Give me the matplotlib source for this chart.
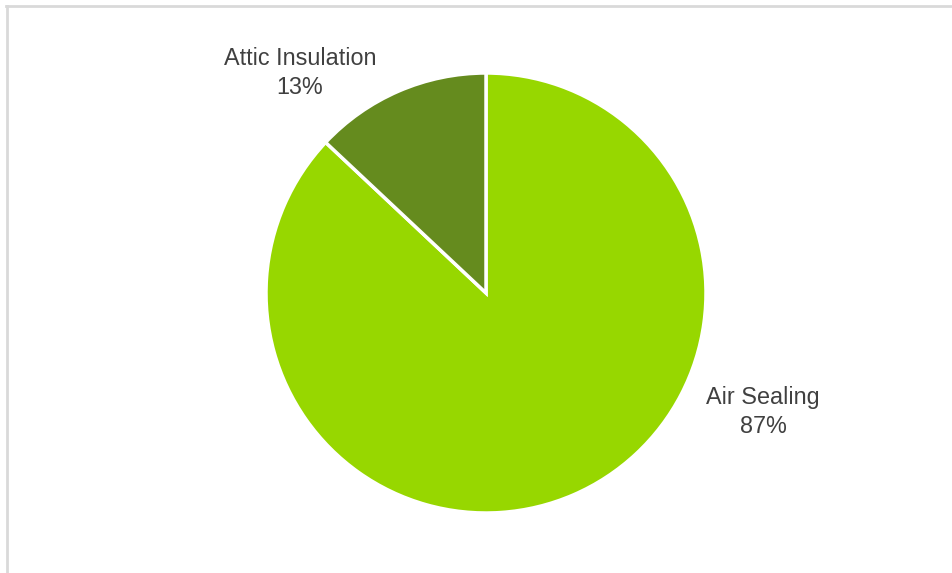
import matplotlib
matplotlib.use("Agg")
from matplotlib import pyplot as plt
from matplotlib.lines import Line2D

plt.rcParams['font.family'] = ['Liberation Sans', 'DejaVu Sans']

categories = ['Air Sealing', 'Attic Insulation']
shares = [87, 13]
colors = ['#97D700', '#658B1E']
# label anchors in pie data units (radius = 1)
label_pos = [(1.26, -0.54), (-0.845, 1.0)]

fig = plt.figure(figsize=(9.53, 5.73), dpi=100)
W, H = 953, 573

# light grey frame (cropped at right and bottom)
fig.add_artist(Line2D([6 / W, 1], [1 - 6 / H, 1 - 6 / H], color='#d9d9d9', lw=2,
                      transform=fig.transFigure))
fig.add_artist(Line2D([7 / W, 7 / W], [0, 1 - 6 / H], color='#d9d9d9', lw=2,
                      transform=fig.transFigure))

cx, cy, r = 486, 293, 220
ax = fig.add_axes([(cx - r) / W, (H - cy - r) / H, 2 * r / W, 2 * r / H])
ax.pie(shares, colors=colors, startangle=90, counterclock=False, radius=1,
       wedgeprops=dict(edgecolor='white', linewidth=2.5))
ax.set_xlim(-1, 1)
ax.set_ylim(-1, 1)
ax.set_aspect('auto')
ax.axis('off')

for name, val, (x, y) in zip(categories, shares, label_pos):
    ax.text(x, y, f'{name}\n{val}%', ha='center', va='center', fontsize=16.8,
            color='#404040', linespacing=1.35, clip_on=False)

fig.savefig('out.png', dpi=100)
